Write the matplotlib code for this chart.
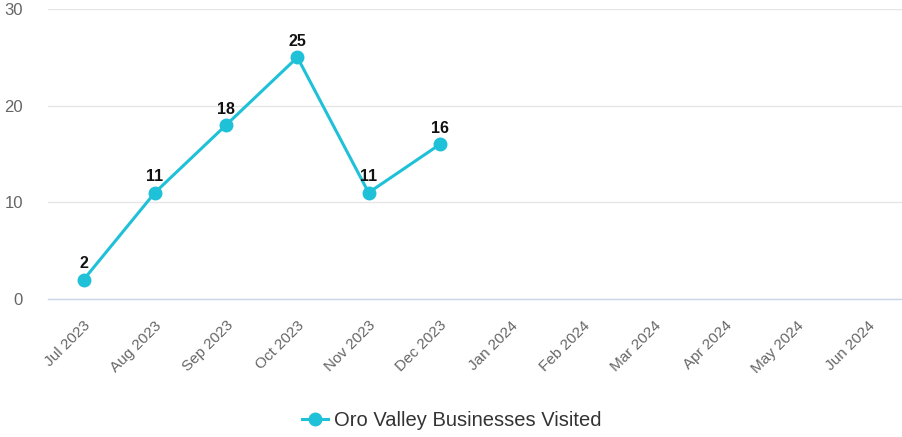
import matplotlib
matplotlib.use("Agg")
import matplotlib.pyplot as plt
import numpy as np

plt.rcParams['font.family'] = ['Liberation Sans', 'DejaVu Sans']

months = ["Jul 2023", "Aug 2023", "Sep 2023", "Oct 2023", "Nov 2023", "Dec 2023",
          "Jan 2024", "Feb 2024", "Mar 2024", "Apr 2024", "May 2024", "Jun 2024"]
visited = [2, 11, 18, 25, 11, 16]
series_name = "Oro Valley Businesses Visited"
yticks = [0, 10, 20, 30]

color = "#1fc1d8"

fig = plt.figure(figsize=(9.03, 4.37), dpi=100)
ax = fig.add_axes([48/903, 1 - 299/437, 855/903, 290/437])

x = np.arange(len(visited))
ax.plot(x, visited, color=color, lw=2.2, marker='o', ms=9, label=series_name, zorder=3)
for xi, v in zip(x, visited):
    ax.annotate(str(v), (xi, v), xytext=(0, 6), textcoords='offset points',
                ha='center', va='bottom', fontsize=11.5, fontweight='bold', color='#111111', zorder=4)

ax.set_xlim(-0.5, len(months) - 0.5)
ax.set_ylim(0, 30)
ax.set_xticks(np.arange(len(months)))
ax.set_xticklabels(months, rotation=45, ha='right', va='top', rotation_mode='anchor',
                   fontsize=11, color='#666666')
ax.set_yticks(yticks)
ax.set_yticklabels([str(t) for t in yticks], fontsize=12, color='#666666')
ax.tick_params(axis='x', length=0, pad=14)
ax.tick_params(axis='y', length=0, pad=18)

ax.grid(axis='y', color='#e6e6e6', lw=1)
ax.set_axisbelow(True)
for s in ['top', 'right', 'left']:
    ax.spines[s].set_visible(False)
ax.spines['bottom'].set_color('#ccd6eb')
ax.spines['bottom'].set_linewidth(1)
ax.spines['bottom'].set_zorder(2)

leg = fig.legend(handles=ax.get_lines(), labels=[series_name], loc='center',
                 bbox_to_anchor=(0.5, 1 - 421/437), frameon=False, fontsize=14.5,
                 handlelength=1.3, handletextpad=0.3, labelcolor='#333333')

fig.savefig("out.png", dpi=100)
